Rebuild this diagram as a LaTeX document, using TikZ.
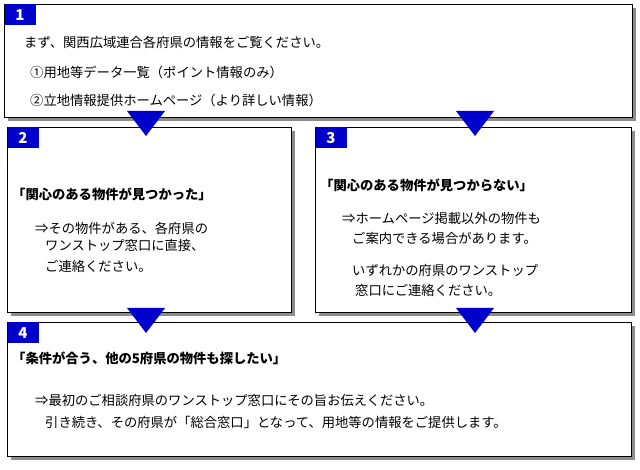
\documentclass[tikz,border=0pt]{standalone}
\usepackage{fontspec}
\setmainfont{Noto Sans CJK JP}
\begin{document}
\begin{tikzpicture}[x=1pt,y=-1pt,
 panel/.style={draw=black,line width=0.8pt,fill=white},
 shade/.style={fill=black!45},
 tab/.style={fill=blue!80!black,text=white,font=\bfseries\fontsize{15}{15}\selectfont,inner sep=0pt,minimum width=31pt,minimum height=21pt},
 tri/.style={fill=blue!80!black},
 txt/.style={anchor=west,inner sep=0pt,font=\fontsize{13.3}{16}\selectfont},
 btxt/.style={txt,font=\bfseries\fontsize{13.3}{16}\selectfont}]
\useasboundingbox (0,0) rectangle (640,470);
% shadows
\fill[shade] (8,8) rectangle (636,121);
\fill[shade] (11,131) rectangle (295,316);
\fill[shade] (319,131) rectangle (635,316);
\fill[shade] (11,326) rectangle (635,460);
% panels
\draw[panel] (4,4) rectangle (632,117);
\draw[panel] (7,127) rectangle (291,312);
\draw[panel] (315,127) rectangle (631,312);
\draw[panel] (7,322) rectangle (631,456);
% tabs
\node[tab] (t1) at (20,15) {1};
\node[tab] (t2) at (23,138) {2};
\node[tab] (t3) at (331,138) {3};
\node[tab] (t4) at (23,333) {4};
% triangles
\fill[tri] (127,111) -- (165,111) -- (146,136) -- cycle;
\fill[tri] (456,111) -- (494,111) -- (475,136) -- cycle;
\fill[tri] (127,308) -- (165,308) -- (146,333) -- cycle;
\fill[tri] (456,308) -- (494,308) -- (475,333) -- cycle;
% texts
\node[txt] (a1) at (24,42) {まず、関西広域連合各府県の情報をご覧ください。};
\node[txt] (a2) at (30,72) {①用地等データ一覧（ポイント情報のみ）};
\node[txt] (a3) at (30,100) {②立地情報提供ホームページ（より詳しい情報）};
\node[btxt] (b1) at (12,194) {「関心のある物件が見つかった」};
\node[txt] (b2) at (35,228) {⇒その物件がある、各府県の};
\node[txt] (b3) at (45,245) {ワンストップ窓口に直接、};
\node[txt] (b4) at (45,266) {ご連絡ください。};
\node[btxt] (c1) at (320,185) {「関心のある物件が見つからない」};
\node[txt] (c2) at (342,218) {⇒ホームページ掲載以外の物件も};
\node[txt] (c3) at (352,238) {ご案内できる場合があります。};
\node[txt] (c4) at (352,270) {いずれかの府県のワンストップ};
\node[txt] (c5) at (355,290) {窓口にご連絡ください。};
\node[btxt] (d1) at (12,358) {「条件が合う、他の5府県の物件も探したい」};
\node[txt] (d2) at (35,400) {⇒最初のご相談府県のワンストップ窓口にその旨お伝えください。};
\node[txt] (d3) at (45,422) {引き続き、その府県が「総合窓口」となって、用地等の情報をご提供します。};
\end{tikzpicture}
\end{document}
